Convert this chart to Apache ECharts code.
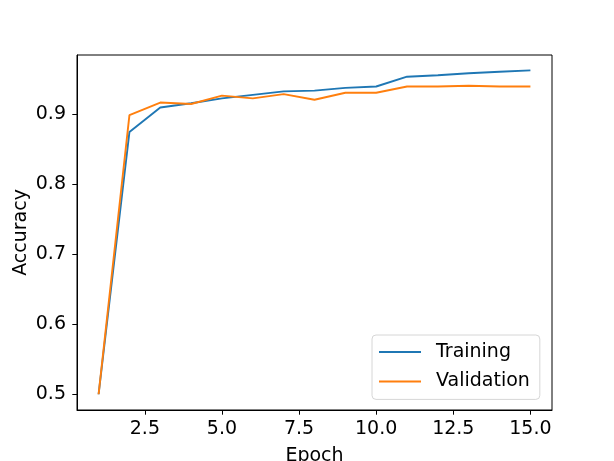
<!DOCTYPE html>
<html>
<head>
<meta charset="utf-8">
<script src="https://cdn.jsdelivr.net/npm/echarts@6/dist/echarts.min.js"></script>
<style>
  html, body { margin: 0; padding: 0; background: #fff; }
  #chart { width: 614px; height: 461px; }
</style>
</head>
<body>
<div id="chart"></div>
<script>
// epochs and accuracies
var epochs = [1, 2, 3, 4, 5, 6, 7, 8, 9, 10, 11, 12, 13, 14, 15];
var training = [0.500, 0.875, 0.910, 0.916, 0.923, 0.928, 0.933, 0.934, 0.938, 0.940, 0.954, 0.956, 0.959, 0.961, 0.963];
var validation = [0.500, 0.899, 0.917, 0.915, 0.927, 0.923, 0.929, 0.921, 0.931, 0.931, 0.940, 0.940, 0.941, 0.940, 0.940];
var xTicks = [2.5, 5.0, 7.5, 10.0, 12.5, 15.0];
var yTicks = [0.5, 0.6, 0.7, 0.8, 0.9];

var font = 'DejaVu Sans';
var fs = 19;

function pairs(ys) {
  return epochs.map(function (e, i) { return [e, ys[i]]; });
}

var chart = echarts.init(document.getElementById('chart'));
var option = {
  animation: false,
  backgroundColor: '#fff',
  textStyle: { fontFamily: font, color: '#000' },
  grid: {
    left: 77, right: 62, top: 55, bottom: 51,
    outerBoundsMode: 'none',
    show: true, borderColor: '#000', borderWidth: 1, backgroundColor: '#fff'
  },
  xAxis: {
    type: 'value',
    min: 0.3, max: 15.7,
    name: 'Epoch',
    nameLocation: 'middle',
    nameGap: 37,
    nameTextStyle: { fontFamily: font, fontSize: fs, color: '#000' },
    axisLine: { show: true, lineStyle: { color: '#000', width: 1 } },
    axisTick: { show: true, length: 4.7, customValues: xTicks, lineStyle: { color: '#000', width: 1 } },
    axisLabel: {
      customValues: xTicks, margin: 10, fontFamily: font, fontSize: fs, color: '#000',
      formatter: function (v) { return v.toFixed(1); }
    },
    splitLine: { show: false }
  },
  yAxis: {
    type: 'value',
    min: 0.4775, max: 0.985,
    name: 'Accuracy',
    nameLocation: 'middle',
    nameGap: 46,
    nameMoveOverlap: false,
    nameTextStyle: { fontFamily: font, fontSize: fs, color: '#000' },
    axisLine: { show: true, lineStyle: { color: '#000', width: 1 } },
    axisTick: { show: true, length: 4.7, customValues: yTicks, lineStyle: { color: '#000', width: 1 } },
    axisLabel: {
      customValues: yTicks, margin: 11, fontFamily: font, fontSize: fs, color: '#000',
      formatter: function (v) { return v.toFixed(1); }
    },
    splitLine: { show: false }
  },
  legend: {
    left: 372, top: 335,
    orient: 'vertical',
    icon: 'rect',
    itemWidth: 42, itemHeight: 2,
    itemGap: 7.4,
    padding: [6, 10, 7, 7],
    backgroundColor: '#fff',
    borderColor: '#d6d6d6',
    borderWidth: 1,
    borderRadius: 4,
    textStyle: { fontFamily: font, fontSize: fs, color: '#000', lineHeight: 22, padding: [0, 0, 0, 10] },
    data: ['Training', 'Validation']
  },
  series: [
    {
      name: 'Training', type: 'line', data: pairs(training),
      symbol: 'none', color: '#1f77b4',
      lineStyle: { color: '#1f77b4', width: 1.9 }
    },
    {
      name: 'Validation', type: 'line', data: pairs(validation),
      symbol: 'none', color: '#ff7f0e',
      lineStyle: { color: '#ff7f0e', width: 1.9 }
    }
  ]
};
chart.setOption(option);
</script>
</body>
</html>
